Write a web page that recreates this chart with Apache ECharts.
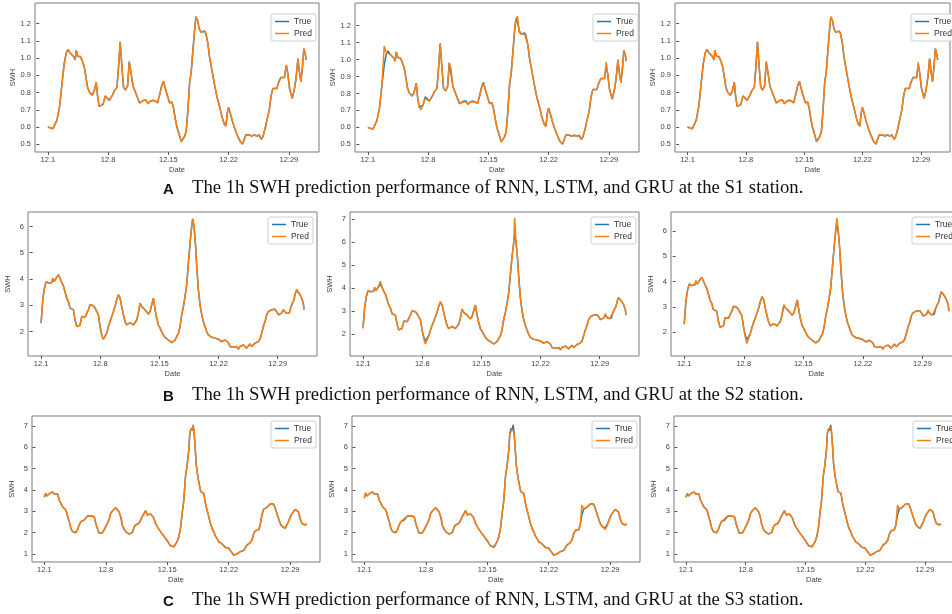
<!DOCTYPE html>
<html>
<head>
<meta charset="utf-8">
<title>SWH prediction performance</title>
<script src="https://cdn.jsdelivr.net/npm/echarts@6/dist/echarts.min.js"></script>
<style>
    html, body { margin: 0; padding: 0; background: #fff; }
    #chart { width: 952px; height: 614px; }
</style>
</head>
<body>
<div id="chart"></div>
<script>
// ---- data (x = day of December) ----
var dateTicks = [1, 8, 15, 22, 29];
var swhTicksS1 = [0.5, 0.6, 0.7, 0.8, 0.9, 1.0, 1.1, 1.2];
var swhTicksS2 = [2, 3, 4, 5, 6, 7];
var swhTicksS3 = [1, 2, 3, 4, 5, 6, 7];

var captionS1 = 'The 1h SWH prediction performance of RNN, LSTM, and GRU at the S1 station.';
var captionS2 = 'The 1h SWH prediction performance of RNN, LSTM, and GRU at the S2 station.';
var captionS3 = 'The 1h SWH prediction performance of RNN, LSTM, and GRU at the S3 station.';

// S1 station
var daysS1 = [1.00,1.27,1.58,1.77,2.05,2.36,2.63,2.90,3.13,3.32,
    3.59,3.98,4.18,4.29,4.49,4.76,4.95,5.22,5.45,5.61,
    5.84,6.00,6.15,6.38,6.62,6.77,6.96,7.16,7.39,7.66,
    7.86,8.13,8.36,8.55,8.71,9.02,9.21,9.40,9.60,9.79,
    10.02,10.26,10.45,10.64,10.88,11.11,11.34,11.65,11.84,12.12,
    12.43,12.62,12.89,13.20,13.47,13.74,13.97,14.25,14.44,14.63,
    14.90,15.14,15.41,15.60,15.79,15.99,16.26,16.49,16.69,16.88,
    17.07,17.27,17.46,17.65,17.85,18.04,18.20,18.39,18.58,18.82,
    19.01,19.20,19.36,19.59,19.78,20.06,20.33,20.64,20.95,21.22,
    21.49,21.68,21.84,21.99,22.19,22.46,22.77,23.08,23.35,23.62,
    23.81,24.01,24.20,24.43,24.70,24.97,25.28,25.55,25.79,25.98,
    26.25,26.45,26.72,26.95,27.14,27.34,27.61,27.84,28.07,28.30,
    28.50,28.69,28.85,29.08,29.39,29.62,29.85,30.05,30.20,30.40,
    30.56,30.74,30.90,31.02];
var trueS1 = [0.60,0.595,0.59,0.60,0.64,0.72,0.85,0.97,1.03,1.05,
    1.03,1.01,0.99,1.045,1.01,1.01,0.99,0.95,0.88,0.83,
    0.80,0.80,0.785,0.81,0.86,0.78,0.72,0.71,0.73,0.78,
    0.77,0.755,0.75,0.79,0.81,0.83,0.95,1.095,0.95,0.83,
    0.815,0.84,0.98,0.92,0.84,0.83,0.78,0.74,0.735,0.755,
    0.755,0.735,0.75,0.755,0.75,0.74,0.785,0.845,0.865,0.825,
    0.78,0.74,0.745,0.71,0.65,0.60,0.555,0.515,0.515,0.545,
    0.575,0.70,0.855,0.92,1.045,1.16,1.24,1.22,1.17,1.15,
    1.145,1.157,1.142,1.085,1.007,0.93,0.853,0.776,0.718,0.66,
    0.618,0.606,0.68,0.714,0.68,0.63,0.583,0.544,0.515,0.502,
    0.505,0.555,0.548,0.554,0.548,0.554,0.548,0.554,0.529,0.544,
    0.593,0.64,0.70,0.785,0.824,0.824,0.824,0.863,0.888,0.882,
    0.888,0.96,0.92,0.824,0.766,0.814,0.89,0.998,0.93,0.863,
    0.94,1.055,1.026,0.99];
var rnnS1 = [0.60,0.595,0.59,0.60,0.64,0.72,0.85,0.97,1.03,1.05,
    1.03,1.01,0.99,1.045,1.01,1.01,0.99,0.95,0.88,0.83,
    0.80,0.80,0.785,0.81,0.86,0.78,0.72,0.71,0.73,0.78,
    0.77,0.755,0.75,0.79,0.81,0.83,0.95,1.095,0.95,0.83,
    0.815,0.84,0.98,0.92,0.84,0.83,0.78,0.74,0.735,0.755,
    0.755,0.735,0.75,0.755,0.75,0.74,0.785,0.845,0.865,0.825,
    0.78,0.74,0.745,0.71,0.65,0.60,0.555,0.515,0.515,0.545,
    0.575,0.70,0.855,0.92,1.045,1.16,1.24,1.22,1.17,1.15,
    1.145,1.157,1.142,1.085,1.007,0.93,0.853,0.776,0.718,0.66,
    0.618,0.606,0.68,0.714,0.68,0.63,0.583,0.544,0.515,0.502,
    0.505,0.555,0.548,0.554,0.548,0.554,0.548,0.554,0.529,0.544,
    0.593,0.64,0.70,0.785,0.824,0.824,0.824,0.863,0.888,0.882,
    0.888,0.96,0.92,0.824,0.766,0.814,0.89,0.998,0.93,0.863,
    0.94,1.055,1.026,0.99];
var lstmS1 = [0.60,0.595,0.59,0.60,0.64,0.72,0.85,1.08,1.04,1.05,
    1.03,1.01,0.99,1.045,1.01,1.01,0.99,0.95,0.88,0.83,
    0.80,0.80,0.785,0.81,0.855,0.78,0.72,0.705,0.73,0.77,
    0.77,0.755,0.75,0.79,0.81,0.83,0.95,1.09,0.95,0.83,
    0.815,0.84,0.975,0.95,0.84,0.83,0.78,0.74,0.735,0.75,
    0.75,0.735,0.75,0.75,0.75,0.74,0.785,0.845,0.86,0.825,
    0.78,0.74,0.745,0.71,0.65,0.60,0.555,0.515,0.515,0.545,
    0.575,0.70,0.855,0.92,1.045,1.18,1.235,1.255,1.16,1.15,
    1.145,1.15,1.142,1.085,1.007,0.93,0.853,0.776,0.718,0.66,
    0.618,0.606,0.68,0.714,0.68,0.63,0.583,0.544,0.515,0.50,
    0.505,0.555,0.548,0.554,0.548,0.554,0.548,0.554,0.529,0.544,
    0.593,0.64,0.70,0.785,0.824,0.824,0.824,0.863,0.888,0.882,
    0.888,0.985,0.92,0.824,0.77,0.814,0.89,0.998,0.93,0.863,
    0.94,1.055,1.026,0.99];
var gruS1 = [0.60,0.595,0.59,0.60,0.64,0.72,0.85,0.97,1.03,1.05,
    1.03,1.01,0.99,1.045,1.01,1.01,0.99,0.95,0.88,0.83,
    0.80,0.80,0.785,0.81,0.86,0.78,0.72,0.71,0.73,0.78,
    0.77,0.755,0.75,0.79,0.81,0.83,0.95,1.095,0.95,0.83,
    0.815,0.84,0.98,0.92,0.84,0.83,0.78,0.74,0.735,0.755,
    0.755,0.735,0.75,0.755,0.75,0.74,0.785,0.845,0.865,0.825,
    0.78,0.74,0.745,0.71,0.65,0.60,0.555,0.515,0.515,0.545,
    0.575,0.70,0.855,0.92,1.045,1.16,1.24,1.22,1.17,1.15,
    1.145,1.157,1.142,1.085,1.007,0.93,0.853,0.776,0.718,0.66,
    0.618,0.606,0.68,0.714,0.68,0.63,0.583,0.544,0.515,0.502,
    0.505,0.555,0.548,0.554,0.548,0.554,0.548,0.554,0.529,0.544,
    0.593,0.64,0.70,0.785,0.824,0.824,0.824,0.863,0.888,0.882,
    0.888,0.975,0.92,0.824,0.766,0.814,0.89,0.998,0.93,0.863,
    0.94,1.055,1.026,0.99];

// S2 station
var daysS2 = [1.00,1.20,1.39,1.59,1.75,1.87,2.06,2.26,2.38,2.54,
    2.70,2.85,3.05,3.25,3.44,3.64,3.84,4.04,4.23,4.43,
    4.63,4.82,5.02,5.22,5.42,5.61,5.81,6.01,6.21,6.40,
    6.60,6.80,6.99,7.19,7.39,7.59,7.78,7.98,8.18,8.37,
    8.57,8.77,8.97,9.16,9.36,9.56,9.75,9.95,10.15,10.35,
    10.54,10.74,10.94,11.13,11.33,11.53,11.73,11.92,12.12,12.32,
    12.51,12.71,12.91,13.11,13.30,13.50,13.70,13.89,14.09,14.29,
    14.49,14.68,14.88,15.08,15.27,15.47,15.67,15.87,16.06,16.26,
    16.46,16.65,16.85,17.05,17.25,17.44,17.64,17.84,18.03,18.23,
    18.43,18.63,18.82,18.94,19.10,19.26,19.42,19.61,19.81,20.01,
    20.20,20.40,20.60,20.79,20.99,21.19,21.39,21.58,21.78,21.98,
    22.18,22.37,22.57,22.77,22.96,23.16,23.36,23.56,23.75,23.95,
    24.15,24.34,24.54,24.74,24.94,25.13,25.33,25.53,25.72,25.92,
    26.12,26.32,26.51,26.71,26.91,27.10,27.30,27.50,27.70,27.89,
    28.09,28.29,28.48,28.68,28.88,29.08,29.27,29.47,29.67,29.79,
    29.98,30.18,30.38,30.57,30.77,30.93,31.09,31.24,31.44,31.64,
    31.84,32.03,32.11];
var trueS2 = [2.32,3.21,3.65,3.90,3.97,3.84,3.90,3.87,4.03,3.90,
    3.97,4.07,4.16,4.03,3.87,3.74,3.69,3.27,3.14,2.89,
    2.83,2.83,2.44,2.19,2.13,2.25,2.57,2.60,2.55,2.57,
    2.83,3.02,3.08,2.98,2.89,2.93,2.64,2.19,1.87,1.71,
    1.75,1.94,2.19,2.38,2.57,2.76,2.95,3.21,3.40,3.27,
    2.95,2.64,2.38,2.25,2.29,2.34,2.29,2.25,2.29,2.44,
    2.70,3.08,2.95,2.89,2.83,2.76,2.67,2.76,2.83,3.27,
    2.83,2.51,2.25,2.13,2.00,1.87,1.78,1.71,1.68,1.62,
    1.58,1.62,1.68,1.71,1.94,2.19,2.64,2.95,3.33,3.78,
    4.60,5.37,6.00,6.29,6.00,5.37,4.48,3.59,3.02,2.64,
    2.38,2.19,2.00,1.87,1.81,1.78,1.81,1.75,1.78,1.71,
    1.68,1.62,1.66,1.68,1.62,1.58,1.43,1.37,1.40,1.37,
    1.43,1.33,1.43,1.49,1.49,1.45,1.37,1.43,1.53,1.43,
    1.40,1.56,1.62,1.62,1.71,1.94,2.19,2.38,2.64,2.76,
    2.76,2.83,2.89,2.85,2.76,2.64,2.57,2.70,2.83,2.76,
    2.70,2.67,2.70,2.95,3.10,3.21,3.46,3.59,3.59,3.40,
    3.27,3.08,2.83];
var rnnS2 = [2.32,3.21,3.65,3.90,3.97,3.84,3.90,3.87,4.03,3.90,
    3.97,4.07,4.16,4.03,3.87,3.74,3.69,3.27,3.14,2.89,
    2.83,2.83,2.44,2.19,2.13,2.25,2.57,2.60,2.55,2.57,
    2.83,3.02,3.08,2.98,2.89,2.93,2.64,2.19,1.87,1.71,
    1.75,1.94,2.19,2.38,2.57,2.76,2.95,3.21,3.40,3.27,
    2.95,2.64,2.38,2.25,2.29,2.34,2.29,2.25,2.29,2.44,
    2.70,3.08,2.95,2.89,2.83,2.76,2.67,2.76,2.83,3.27,
    2.83,2.51,2.25,2.13,2.00,1.87,1.78,1.71,1.68,1.62,
    1.58,1.62,1.68,1.71,1.94,2.19,2.64,2.95,3.33,3.78,
    4.60,5.37,6.00,6.29,6.00,5.37,4.48,3.59,3.02,2.64,
    2.38,2.19,2.00,1.87,1.81,1.78,1.81,1.75,1.78,1.71,
    1.68,1.62,1.66,1.68,1.62,1.58,1.43,1.37,1.40,1.37,
    1.43,1.33,1.43,1.49,1.49,1.45,1.37,1.43,1.53,1.43,
    1.40,1.56,1.62,1.62,1.71,1.94,2.19,2.38,2.64,2.76,
    2.76,2.83,2.89,2.85,2.76,2.64,2.57,2.70,2.83,2.76,
    2.70,2.67,2.70,2.95,3.10,3.21,3.46,3.59,3.59,3.40,
    3.27,3.08,2.83];
var lstmS2 = [2.25,3.25,3.65,3.90,3.97,3.84,3.90,3.87,4.03,3.90,
    3.97,4.10,4.30,4.03,3.87,3.74,3.69,3.27,3.14,2.89,
    2.83,2.83,2.44,2.19,2.13,2.25,2.57,2.60,2.55,2.57,
    2.83,3.02,3.08,2.98,2.89,2.93,2.64,2.19,1.80,1.58,
    1.75,1.94,2.19,2.38,2.57,2.76,2.95,3.21,3.42,3.27,
    2.95,2.64,2.38,2.25,2.29,2.34,2.29,2.25,2.29,2.44,
    2.70,3.10,2.95,2.89,2.83,2.76,2.67,2.76,2.83,3.27,
    2.83,2.51,2.25,2.13,2.00,1.87,1.78,1.71,1.68,1.60,
    1.58,1.62,1.68,1.71,1.94,2.19,2.64,2.95,3.33,3.78,
    4.60,5.37,5.90,7.05,5.95,5.37,4.48,3.59,3.02,2.64,
    2.38,2.19,2.00,1.87,1.81,1.78,1.81,1.75,1.78,1.71,
    1.68,1.62,1.66,1.68,1.62,1.58,1.43,1.37,1.40,1.37,
    1.43,1.33,1.43,1.49,1.49,1.45,1.37,1.43,1.53,1.43,
    1.40,1.56,1.62,1.62,1.71,1.94,2.19,2.38,2.64,2.76,
    2.76,2.83,2.89,2.85,2.76,2.64,2.57,2.70,2.90,2.76,
    2.70,2.67,2.70,2.95,3.10,3.21,3.46,3.59,3.59,3.40,
    3.27,3.08,2.83];
var gruS2 = [2.30,3.21,3.65,3.90,3.97,3.84,3.90,3.87,4.03,3.90,
    3.97,4.07,4.16,4.03,3.87,3.74,3.69,3.27,3.14,2.89,
    2.83,2.83,2.44,2.19,2.13,2.25,2.57,2.60,2.55,2.57,
    2.83,3.02,3.08,2.98,2.89,2.93,2.64,2.19,1.80,1.55,
    1.75,1.94,2.19,2.38,2.57,2.76,2.95,3.21,3.40,3.27,
    2.95,2.64,2.38,2.25,2.29,2.34,2.29,2.25,2.29,2.44,
    2.70,3.08,2.95,2.89,2.83,2.76,2.67,2.76,2.83,3.27,
    2.83,2.51,2.25,2.13,2.00,1.87,1.78,1.71,1.68,1.62,
    1.58,1.62,1.68,1.71,1.94,2.19,2.64,2.95,3.33,3.78,
    4.60,5.40,6.10,6.50,6.05,5.37,4.48,3.59,3.02,2.64,
    2.38,2.19,2.00,1.87,1.81,1.78,1.81,1.75,1.78,1.71,
    1.68,1.62,1.66,1.68,1.62,1.58,1.43,1.37,1.40,1.37,
    1.43,1.33,1.43,1.49,1.49,1.45,1.37,1.43,1.53,1.43,
    1.40,1.56,1.62,1.62,1.71,1.94,2.19,2.38,2.64,2.76,
    2.76,2.83,2.89,2.85,2.76,2.64,2.57,2.70,2.88,2.76,
    2.70,2.67,2.70,2.95,3.10,3.21,3.46,3.59,3.59,3.40,
    3.27,3.08,2.83];

// S3 station
var daysS3 = [1.00,1.15,1.30,1.45,1.61,1.76,1.95,2.14,2.32,2.51,
    2.70,2.89,3.08,3.27,3.46,3.65,3.84,4.03,4.22,4.41,
    4.59,4.78,4.97,5.16,5.35,5.54,5.73,5.92,6.11,6.30,
    6.49,6.68,6.86,7.05,7.24,7.43,7.62,7.81,8.00,8.19,
    8.38,8.57,8.76,8.95,9.13,9.32,9.51,9.70,9.89,10.08,
    10.27,10.46,10.65,10.84,11.03,11.22,11.40,11.59,11.78,11.97,
    12.16,12.35,12.54,12.73,12.92,13.11,13.30,13.49,13.67,13.86,
    14.05,14.24,14.43,14.62,14.81,15.00,15.19,15.38,15.57,15.76,
    15.94,16.13,16.32,16.51,16.70,16.89,17.08,17.27,17.46,17.57,
    17.72,17.84,17.95,18.03,18.14,18.29,18.48,18.67,18.82,18.97,
    19.16,19.35,19.54,19.73,19.92,20.11,20.30,20.49,20.67,20.86,
    21.05,21.24,21.43,21.62,21.81,22.00,22.19,22.38,22.57,22.76,
    22.94,23.13,23.32,23.51,23.70,23.89,24.08,24.27,24.46,24.65,
    24.84,25.03,25.21,25.40,25.59,25.78,25.97,26.16,26.35,26.54,
    26.73,26.92,27.11,27.30,27.48,27.67,27.86,28.05,28.24,28.43,
    28.62,28.81,29.00,29.19,29.38,29.57,29.76,29.94,30.13,30.32,
    30.51,30.70,30.89];
var trueS3 = [3.66,3.84,3.72,3.66,3.84,3.92,3.91,3.81,3.81,3.81,
    3.53,3.38,3.22,3.19,3.06,2.78,2.52,2.20,2.05,2.00,
    2.00,2.13,2.36,2.52,2.59,2.59,2.63,2.78,2.78,2.78,
    2.78,2.75,2.44,2.20,1.97,1.89,2.00,2.13,2.28,2.44,
    2.63,2.91,3.02,3.06,3.17,3.09,2.98,2.75,2.36,2.16,
    2.05,1.97,1.94,1.94,2.00,2.25,2.36,2.41,2.44,2.59,
    2.75,2.83,3.03,2.83,2.75,2.88,2.78,2.67,2.44,2.28,
    2.16,2.05,1.94,1.84,1.73,1.63,1.50,1.38,1.34,1.34,
    1.42,1.58,1.81,2.20,2.91,3.53,4.63,5.17,5.88,6.66,
    6.89,6.78,7.05,6.81,6.27,5.25,4.63,4.23,3.92,4.00,
    3.84,3.38,3.06,2.75,2.44,2.20,2.05,1.84,1.73,1.58,
    1.50,1.47,1.38,1.31,1.31,1.27,1.16,1.06,0.95,0.95,
    1.00,1.06,1.11,1.16,1.16,1.19,1.42,1.50,1.53,1.66,
    1.94,2.09,2.09,2.13,2.36,2.83,3.09,3.14,3.19,3.22,
    3.34,3.41,3.34,3.14,2.91,2.67,2.44,2.31,2.25,2.20,
    2.28,2.52,2.72,2.88,2.98,3.09,3.14,2.98,2.67,2.44,
    2.36,2.36,2.41];
var rnnS3 = [3.66,3.84,3.72,3.66,3.84,3.92,3.91,3.81,3.81,3.81,
    3.53,3.38,3.22,3.19,3.06,2.78,2.52,2.20,2.05,2.00,
    2.00,2.13,2.36,2.52,2.59,2.59,2.63,2.78,2.78,2.78,
    2.78,2.75,2.44,2.20,1.97,1.89,2.00,2.13,2.28,2.44,
    2.63,2.91,3.02,3.06,3.17,3.09,2.98,2.75,2.36,2.16,
    2.05,1.97,1.94,1.94,2.00,2.25,2.36,2.41,2.44,2.59,
    2.75,2.83,3.03,2.83,2.75,2.88,2.78,2.67,2.44,2.28,
    2.16,2.05,1.94,1.84,1.73,1.63,1.50,1.38,1.34,1.34,
    1.42,1.58,1.81,2.20,2.91,3.53,4.63,5.17,5.88,6.66,
    6.89,6.78,7.02,6.81,6.27,5.25,4.63,4.23,3.92,4.00,
    3.84,3.38,3.06,2.75,2.44,2.20,2.05,1.84,1.73,1.58,
    1.50,1.47,1.38,1.31,1.31,1.27,1.16,1.06,0.95,0.95,
    1.00,1.06,1.11,1.16,1.16,1.19,1.42,1.50,1.53,1.66,
    1.94,2.09,2.09,2.13,2.36,2.83,3.09,3.14,3.19,3.22,
    3.34,3.41,3.34,3.14,2.91,2.67,2.44,2.31,2.25,2.20,
    2.28,2.52,2.72,2.88,2.98,3.09,3.14,2.98,2.67,2.44,
    2.36,2.36,2.41];
var lstmS3 = [3.60,3.88,3.72,3.66,3.84,3.92,3.91,3.81,3.81,3.81,
    3.53,3.38,3.22,3.19,3.06,2.78,2.52,2.20,2.05,2.00,
    2.00,2.13,2.36,2.52,2.59,2.65,2.63,2.78,2.78,2.78,
    2.78,2.75,2.44,2.20,1.97,1.89,2.00,2.13,2.28,2.44,
    2.63,2.91,3.02,3.10,3.17,3.09,2.98,2.75,2.36,2.16,
    2.05,1.97,1.94,1.94,2.00,2.25,2.36,2.41,2.44,2.59,
    2.75,2.83,3.05,2.83,2.75,2.88,2.78,2.67,2.44,2.28,
    2.16,2.05,1.94,1.84,1.73,1.63,1.50,1.38,1.30,1.30,
    1.42,1.58,1.81,2.20,2.91,3.53,4.63,5.17,5.88,6.60,
    6.75,6.85,6.80,6.70,6.20,5.25,4.63,4.23,3.92,4.00,
    3.84,3.38,3.06,2.75,2.44,2.20,2.05,1.84,1.73,1.58,
    1.50,1.47,1.38,1.31,1.31,1.27,1.16,1.06,0.95,0.95,
    1.00,1.06,1.11,1.16,1.16,1.19,1.42,1.50,1.53,1.66,
    1.94,2.12,2.09,2.13,2.36,3.30,3.12,3.14,3.19,3.22,
    3.34,3.41,3.34,3.14,2.91,2.67,2.44,2.31,2.25,2.15,
    2.28,2.52,2.72,2.88,2.98,3.09,3.10,2.98,2.67,2.44,
    2.36,2.36,2.41];
var gruS3 = [3.66,3.84,3.72,3.66,3.84,3.92,3.91,3.81,3.81,3.81,
    3.53,3.38,3.22,3.19,3.06,2.78,2.52,2.20,2.05,2.00,
    2.00,2.13,2.36,2.52,2.59,2.65,2.63,2.78,2.78,2.78,
    2.78,2.75,2.44,2.20,1.97,1.89,2.00,2.13,2.28,2.44,
    2.63,2.91,3.02,3.06,3.17,3.09,2.98,2.75,2.36,2.16,
    2.05,1.97,1.94,1.94,2.00,2.25,2.36,2.41,2.44,2.59,
    2.75,2.83,3.03,2.83,2.75,2.88,2.78,2.67,2.44,2.28,
    2.16,2.05,1.94,1.84,1.73,1.63,1.50,1.38,1.34,1.34,
    1.42,1.58,1.81,2.20,2.91,3.53,4.63,5.17,5.88,6.66,
    6.85,6.80,6.95,6.78,6.27,5.25,4.63,4.23,3.92,4.00,
    3.84,3.38,3.06,2.75,2.44,2.20,2.05,1.84,1.73,1.58,
    1.50,1.47,1.38,1.31,1.31,1.27,1.16,1.06,0.95,0.95,
    1.00,1.06,1.11,1.20,1.16,1.19,1.42,1.50,1.53,1.66,
    1.94,2.09,2.09,2.13,2.36,3.30,3.12,3.14,3.19,3.22,
    3.34,3.41,3.34,3.14,2.91,2.67,2.44,2.31,2.25,2.20,
    2.28,2.52,2.72,2.88,2.98,3.09,3.14,2.98,2.67,2.44,
    2.36,2.36,2.41];

// ---- panel layout (pixel boxes, axis extents) ----
var panels = [
    {days: daysS1, truth: trueS1, pred: rnnS1,  ticks: swhTicksS1, dec: 1, x: [-0.5, 32.5],   y: [0.455, 1.32],  box: [35, 3, 284, 149],   legend: [271, 14]},
    {days: daysS1, truth: trueS1, pred: lstmS1, ticks: swhTicksS1, dec: 1, x: [-0.5, 32.5],   y: [0.455, 1.333], box: [355, 3, 284, 149],  legend: [593, 14]},
    {days: daysS1, truth: trueS1, pred: gruS1,  ticks: swhTicksS1, dec: 1, x: [-0.5, 32.5],   y: [0.455, 1.32],  box: [675, 3, 275, 149],  legend: [911, 14]},
    {days: daysS2, truth: trueS2, pred: rnnS2,  ticks: swhTicksS2, dec: 0, x: [-0.55, 33.65], y: [1.07, 6.55],   box: [28, 212, 289, 144], legend: [268, 217]},
    {days: daysS2, truth: trueS2, pred: lstmS2, ticks: swhTicksS2, dec: 0, x: [-0.55, 33.65], y: [1.06, 7.3],    box: [350, 212, 289, 144], legend: [591, 217]},
    {days: daysS2, truth: trueS2, pred: gruS2,  ticks: swhTicksS2, dec: 0, x: [-0.55, 33.65], y: [1.06, 6.74],   box: [671, 212, 291, 144], legend: [912, 217]},
    {days: daysS3, truth: trueS3, pred: rnnS3,  ticks: swhTicksS3, dec: 0, x: [-0.4, 32.4],   y: [0.625, 7.47],  box: [32, 416, 288, 146], legend: [271, 421]},
    {days: daysS3, truth: trueS3, pred: lstmS3, ticks: swhTicksS3, dec: 0, x: [-0.4, 32.4],   y: [0.625, 7.47],  box: [352, 416, 288, 146], legend: [592, 421]},
    {days: daysS3, truth: trueS3, pred: gruS3,  ticks: swhTicksS3, dec: 0, x: [-0.4, 32.4],   y: [0.625, 7.47],  box: [674, 416, 280, 146], legend: [913, 421]}
];

var FONT = 'Liberation Sans';
var TRUE_COLOR = '#1f77b4';
var PRED_COLOR = '#ff7f0e';

var grids = [], xAxes = [], yAxes = [], series = [], legends = [];

panels.forEach(function (p, i) {
    grids.push({
        left: p.box[0], top: p.box[1], width: p.box[2], height: p.box[3],
        show: true, borderColor: '#7a7a7a', borderWidth: 1,
        backgroundColor: '#fff', outerBoundsMode: 'none'
    });
    xAxes.push({
        type: 'value', gridIndex: i, min: p.x[0], max: p.x[1],
        name: 'Date', nameLocation: 'middle', nameGap: 14,
        nameTextStyle: {fontSize: 7.5, color: '#444', fontFamily: FONT},
        axisLine: {show: false},
        axisTick: {show: true, length: 3, lineStyle: {color: '#555'}, customValues: dateTicks},
        axisLabel: {
            customValues: dateTicks, fontSize: 7.5, color: '#444', fontFamily: FONT, margin: 4,
            formatter: function (v) { return '12.' + v; }
        },
        splitLine: {show: false}
    });
    yAxes.push({
        type: 'value', gridIndex: i, min: p.y[0], max: p.y[1],
        name: 'SWH', nameLocation: 'middle', nameGap: 16,
        nameTextStyle: {fontSize: 7.5, color: '#444', fontFamily: FONT},
        axisLine: {show: false},
        axisTick: {show: true, length: 3, lineStyle: {color: '#555'}, customValues: p.ticks},
        axisLabel: {
            customValues: p.ticks, fontSize: 7.5, color: '#444', fontFamily: FONT, margin: 4,
            formatter: function (v) { return v.toFixed(p.dec); }
        },
        splitLine: {show: false}
    });
    series.push({
        name: 'True', type: 'line', xAxisIndex: i, yAxisIndex: i,
        data: p.days.map(function (d, k) { return [d, p.truth[k]]; }),
        showSymbol: false, lineStyle: {width: 1.5, color: TRUE_COLOR},
        itemStyle: {color: TRUE_COLOR}, z: 2
    });
    series.push({
        name: 'Pred', type: 'line', xAxisIndex: i, yAxisIndex: i,
        data: p.days.map(function (d, k) { return [d, p.pred[k]]; }),
        showSymbol: false, lineStyle: {width: 1.5, color: PRED_COLOR},
        itemStyle: {color: PRED_COLOR}, z: 3
    });
    legends.push({
        left: p.legend[0], top: p.legend[1], orient: 'vertical',
        data: ['True', 'Pred'], icon: 'rect', itemWidth: 14, itemHeight: 1.5, itemGap: 3,
        padding: [3, 4, 3, 4], borderColor: '#cfcfcf', borderWidth: 1, borderRadius: 2,
        backgroundColor: '#fff', selectedMode: false,
        textStyle: {fontSize: 8.5, color: '#333', fontFamily: FONT}
    });
});

var captions = [
    {letter: 'A', text: captionS1, top: 179},
    {letter: 'B', text: captionS2, top: 386},
    {letter: 'C', text: captionS3, top: 591}
];
var graphics = [];
captions.forEach(function (c) {
    graphics.push({type: 'text', left: 163, top: c.top + 3,
        style: {text: c.letter, font: 'bold 15px "Liberation Sans"', fill: '#111'}});
    graphics.push({type: 'text', left: 192, top: c.top,
        style: {text: c.text, font: '18.7px "Liberation Serif"', fill: '#111'}});
});

var chart = echarts.init(document.getElementById('chart'));
chart.setOption({
    animation: false,
    backgroundColor: '#fff',
    grid: grids,
    xAxis: xAxes,
    yAxis: yAxes,
    legend: legends,
    series: series,
    graphic: graphics
});
</script>
</body>
</html>
